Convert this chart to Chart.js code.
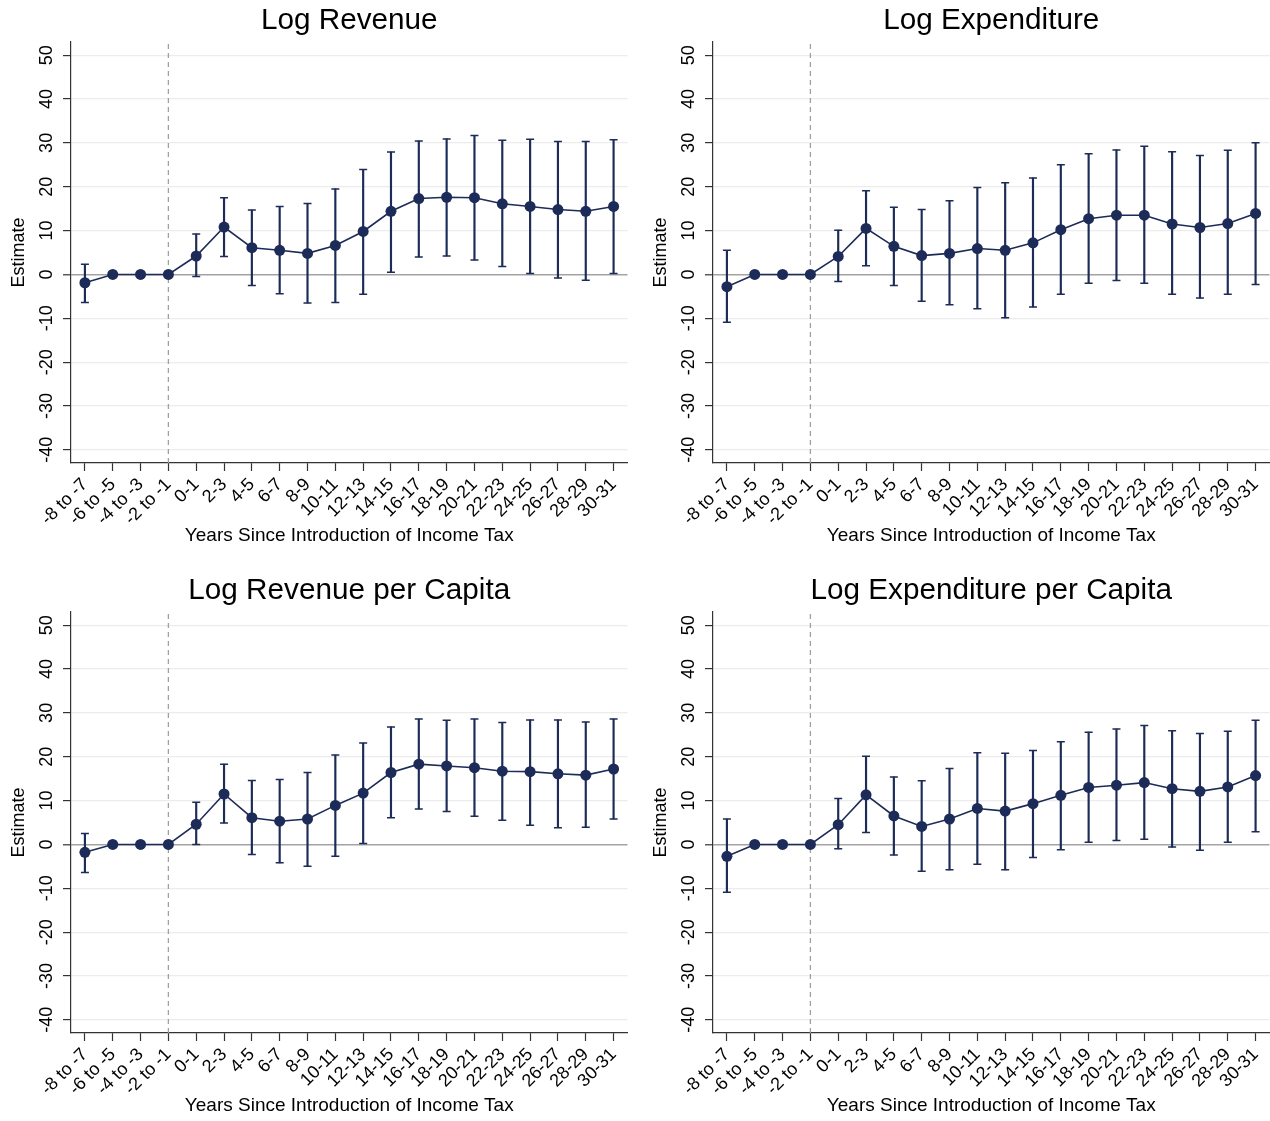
<!DOCTYPE html>
<html><head><meta charset="utf-8">
<script src="https://cdn.jsdelivr.net/npm/chart.js@4"></script>
<style>
html,body{margin:0;padding:0;background:#fff;overflow:hidden;width:1270px;height:1121px;}
.p{position:absolute;}
canvas{display:block;}
</style></head><body>
<div class="p" style="left:0;top:0"><canvas id="c0" width="633" height="570" style="width:633px;height:570px"></canvas></div>
<div class="p" style="left:642px;top:0"><canvas id="c1" width="633" height="570" style="width:633px;height:570px"></canvas></div>
<div class="p" style="left:0;top:570px"><canvas id="c2" width="633" height="551" style="width:633px;height:551px"></canvas></div>
<div class="p" style="left:642px;top:570px"><canvas id="c3" width="633" height="551" style="width:633px;height:551px"></canvas></div>
<script>
const categories = ['-8 to -7','-6 to -5','-4 to -3','-2 to -1','0-1','2-3','4-5','6-7','8-9','10-11','12-13','14-15','16-17','18-19','20-21','22-23','24-25','26-27','28-29','30-31'];
const dividerCategory = '-2 to -1';
const yTickValues = [50,40,30,20,10,0,-10,-20,-30,-40];
const yMin = -43, yMax = 53;
const xTitle = 'Years Since Introduction of Income Tax';
const yTitle = 'Estimate';

const titles = ['Log Revenue','Log Expenditure','Log Revenue per Capita','Log Expenditure per Capita'];

const revEst = [-1.9,0,0,0,4.2,10.8,6.1,5.5,4.8,6.6,9.8,14.4,17.3,17.6,17.5,16.1,15.5,14.8,14.4,15.5];
const revHi  = [2.3,null,null,null,9.2,17.5,14.7,15.5,16.2,19.5,23.9,27.9,30.4,30.9,31.7,30.6,30.8,30.3,30.3,30.7];
const revLo  = [-6.4,null,null,null,-0.5,4.1,-2.5,-4.4,-6.5,-6.4,-4.5,0.5,4.0,4.2,3.3,1.8,0.2,-0.8,-1.3,0.2];

const expEst = [-2.8,0,0,0,4.1,10.5,6.4,4.3,4.8,5.9,5.5,7.2,10.2,12.7,13.5,13.5,11.5,10.7,11.6,13.9];
const expHi  = [5.5,null,null,null,10.1,19.1,15.3,14.8,16.8,19.8,20.9,22.0,25.0,27.5,28.4,29.2,28.0,27.1,28.3,30.0];
const expLo  = [-10.9,null,null,null,-1.6,2.0,-2.5,-6.1,-6.9,-7.8,-9.9,-7.4,-4.5,-2.0,-1.4,-2.0,-4.5,-5.4,-4.5,-2.3];

const revPcEst = [-1.8,0,0,0,4.6,11.5,6.1,5.3,5.8,8.9,11.7,16.4,18.3,17.9,17.5,16.7,16.6,16.1,15.8,17.2];
const revPcHi  = [2.5,null,null,null,9.6,18.3,14.6,14.8,16.4,20.4,23.1,26.8,28.6,28.3,28.6,27.8,28.4,28.4,27.9,28.6];
const revPcLo  = [-6.4,null,null,null,0.0,4.9,-2.3,-4.2,-5.0,-2.7,0.2,6.1,8.1,7.5,6.4,5.5,4.4,3.8,3.9,5.8];

const expPcEst = [-2.7,0,0,0,4.5,11.3,6.5,4.1,5.8,8.2,7.6,9.3,11.2,13.0,13.5,14.1,12.7,12.1,13.1,15.7];
const expPcHi  = [5.8,null,null,null,10.5,20.1,15.4,14.5,17.3,20.9,20.8,21.4,23.4,25.6,26.3,27.1,25.9,25.3,25.8,28.3];
const expPcLo  = [-10.9,null,null,null,-1.0,2.7,-2.4,-6.1,-5.8,-4.5,-5.8,-3.0,-1.2,0.5,0.9,1.2,-0.6,-1.3,0.5,2.9];

const NAVY = '#1c2b57';
const FONT = "'Liberation Sans', Arial, Helvetica, sans-serif";

function makeChart(id, title, est, lo, hi, padBottom) {
  const bars = lo.map((l, i) => (l == null || hi[i] == null) ? null : [l, hi[i]]);
  new Chart(document.getElementById(id), {
    type: 'line',
    data: {
      labels: categories,
      datasets: [
        { type: 'line', data: est, borderColor: NAVY, backgroundColor: NAVY, borderWidth: 1.6,
          pointRadius: 5.5, pointBackgroundColor: NAVY, pointBorderWidth: 0, tension: 0, fill: false },
        { type: 'line', data: hi, showLine: false, pointStyle: 'line', pointRadius: 4,
          pointBorderColor: NAVY, pointBorderWidth: 1.5, borderColor: NAVY },
        { type: 'line', data: lo, showLine: false, pointStyle: 'line', pointRadius: 4,
          pointBorderColor: NAVY, pointBorderWidth: 1.5, borderColor: NAVY },
        { type: 'bar', data: bars, backgroundColor: NAVY, barThickness: 1.5, borderWidth: 0 },
        { type: 'line', data: [{x: dividerCategory, y: yMin}, {x: dividerCategory, y: yMax}],
          borderColor: '#a0a0a0', borderDash: [5, 4], borderWidth: 1.3, pointRadius: 0, fill: false }
      ]
    },
    options: {
      responsive: false,
      animation: false,
      events: [],
      layout: { padding: { left: 0, right: 1, top: 0, bottom: padBottom } },
      plugins: {
        legend: { display: false },
        tooltip: { enabled: false },
        title: { display: true, text: title, fullSize: false, color: '#000',
          font: { family: FONT, size: 29.7, weight: 'normal', lineHeight: 1 },
          padding: { top: 6, bottom: 6.3 } }
      },
      scales: {
        x: {
          type: 'category',
          offset: true,
          grid: { display: true, offset: false, drawOnChartArea: false, drawTicks: true,
                  tickLength: 8, tickColor: '#333', tickWidth: 1.2 },
          border: { display: true, color: '#333', width: 1.2 },
          ticks: { autoSkip: false, minRotation: 45, maxRotation: 45, padding: 3, color: '#000',
                   font: { family: FONT, size: 18 } },
          title: { display: true, text: xTitle, color: '#000', font: { family: FONT, size: 19 },
                   padding: { top: 4, bottom: 4 } },
          afterFit: s => { s.height = 88; }
        },
        y: {
          type: 'linear',
          min: yMin, max: yMax,
          afterBuildTicks: s => { s.ticks = yTickValues.map(v => ({ value: v })); },
          grid: {
            color: c => (c.tick && c.tick.value === 0) ? '#a3a3a3' : '#ececec',
            lineWidth: c => (c.tick && c.tick.value === 0) ? 1.6 : 1.2,
            tickColor: '#333', tickLength: 8, tickWidth: 1.2, drawTicks: true
          },
          border: { display: true, color: '#333', width: 1.2 },
          ticks: { minRotation: 90, maxRotation: 90, crossAlign: 'center', padding: 3, color: '#000',
                   font: { family: FONT, size: 18 } },
          title: { display: true, text: yTitle, color: '#000', font: { family: FONT, size: 18 },
                   padding: { top: 8, bottom: 0 } },
          afterFit: s => { s.width = 71; }
        }
      }
    }
  });
}

makeChart('c0', titles[0], revEst, revLo, revHi, 19);
makeChart('c1', titles[1], expEst, expLo, expHi, 19);
makeChart('c2', titles[2], revPcEst, revPcLo, revPcHi, 0);
makeChart('c3', titles[3], expPcEst, expPcLo, expPcHi, 0);
</script>
</body></html>
